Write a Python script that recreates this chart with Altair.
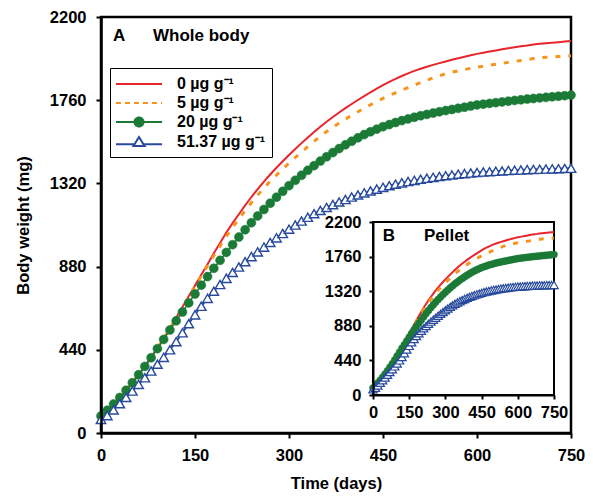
import altair as alt
import pandas as pd

# ---------------- data ----------------
days = list(range(0, 751, 10))
series_labels = ["0 µg g⁻¹", "5 µg g⁻¹", "20 µg g⁻¹", "51.37 µg g⁻¹"]

conc_0 = [80, 112, 146, 184, 224, 265, 308, 353, 401, 450,
          500, 554, 609, 666, 723, 780, 837, 893, 950, 1005,
          1060, 1110, 1157, 1204, 1248, 1290, 1329, 1367, 1403, 1437,
          1470, 1502, 1533, 1563, 1592, 1620, 1646, 1671, 1695, 1718,
          1740, 1761, 1782, 1802, 1821, 1840, 1857, 1873, 1888, 1902,
          1915, 1926, 1937, 1947, 1956, 1965, 1974, 1982, 1990, 1998,
          2005, 2011, 2017, 2023, 2029, 2035, 2040, 2045, 2049, 2054,
          2058, 2061, 2064, 2067, 2070, 2073]

conc_5 = [80, 112, 146, 184, 224, 265, 308, 353, 401, 450,
          500, 553, 608, 664, 720, 775, 830, 884, 937, 989,
          1040, 1087, 1132, 1176, 1218, 1258, 1296, 1331, 1364, 1396,
          1427, 1457, 1486, 1514, 1542, 1569, 1594, 1617, 1639, 1660,
          1680, 1699, 1718, 1736, 1753, 1770, 1785, 1799, 1813, 1827,
          1840, 1853, 1866, 1878, 1889, 1900, 1908, 1915, 1922, 1929,
          1935, 1940, 1945, 1950, 1955, 1960, 1965, 1970, 1975, 1980,
          1985, 1987, 1989, 1991, 1993, 1995]

conc_20 = [90, 120, 153, 188, 226, 266, 308, 352, 398, 446,
           495, 545, 593, 640, 688, 735, 782, 827, 871, 913,
           955, 996, 1036, 1075, 1112, 1148, 1182, 1215, 1247, 1278,
           1308, 1336, 1363, 1389, 1414, 1438, 1461, 1483, 1504, 1524,
           1543, 1561, 1578, 1593, 1607, 1620, 1631, 1642, 1652, 1661,
           1670, 1678, 1685, 1692, 1699, 1705, 1711, 1717, 1723, 1729,
           1735, 1739, 1743, 1747, 1751, 1755, 1759, 1762, 1766, 1769,
           1772, 1775, 1778, 1781, 1784, 1787]

conc_51 = [72, 92, 122, 155, 188, 222, 257, 292, 328, 364,
           400, 440, 483, 530, 578, 625, 670, 712, 750, 785,
           818, 849, 878, 906, 933, 958, 983, 1008, 1032, 1055,
           1078, 1100, 1121, 1141, 1160, 1177, 1193, 1208, 1222, 1235,
           1248, 1259, 1270, 1280, 1290, 1299, 1308, 1316, 1323, 1330,
           1336, 1342, 1347, 1352, 1357, 1361, 1365, 1369, 1372, 1375,
           1378, 1380, 1382, 1384, 1386, 1388, 1390, 1391, 1393, 1394,
           1395, 1396, 1397, 1398, 1399, 1400]

x_ticks = [0, 150, 300, 450, 600, 750]
y_ticks = [0, 440, 880, 1320, 1760, 2200]

main_labels = ["A", "Whole body"]
main_label_days = [19, 83]
main_label_values = [2099, 2099]
inset_labels = ["B", "Pellet"]
inset_label_days = [40, 211]
inset_label_values = [2018, 2018]

# ---------------- styling ----------------
FONT = "Liberation Sans"
RED, ORANGE, GREEN, BLUE = "#e8252b", "#f7941d", "#1a7a36", "#26499c"

W, H = 470, 416
INSET_X = [272, 453]
INSET_Y = [378, 205]


def frame(vals):
    return pd.DataFrame({"day": days, "value": vals})


df0, df5, df20, df51 = frame(conc_0), frame(conc_5), frame(conc_20), frame(conc_51)

# ---------------- main panel ----------------
xm = alt.X("day:Q", scale=alt.Scale(domain=[x_ticks[0], x_ticks[-1]], nice=False, zero=False),
           axis=alt.Axis(values=x_ticks, title="Time (days)", format="d", tickSize=5, tickWidth=2,
                         domainWidth=2.5, labelPadding=9, titlePadding=12, zindex=1))
ym = alt.Y("value:Q", scale=alt.Scale(domain=[y_ticks[0], y_ticks[-1]], nice=False),
           axis=alt.Axis(values=y_ticks, title="Body weight (mg)", format="d", tickSize=5, tickWidth=2,
                         domainWidth=2.5, labelPadding=10, titlePadding=18, zindex=1))


def panel(x, y, pt_circle, pt_tri, tri_sw):
    red = alt.Chart(df0).mark_line(color=RED, strokeWidth=2).encode(x=x, y=y)
    orange = alt.Chart(df5).mark_line(color=ORANGE, strokeWidth=3, strokeDash=[5, 8]).encode(x=x, y=y)
    gline = alt.Chart(df20).mark_line(color=GREEN, strokeWidth=1.5).encode(x=x, y=y)
    gpts = alt.Chart(df20).mark_point(shape="circle", filled=True, fill=GREEN, stroke=GREEN,
                                      strokeWidth=0.5, size=pt_circle, opacity=1).encode(x=x, y=y)
    bline = alt.Chart(df51).mark_line(color=BLUE, strokeWidth=1.8).encode(x=x, y=y)
    bpts = alt.Chart(df51).mark_point(shape="triangle-up", filled=True, fill="white", stroke=BLUE,
                                      strokeWidth=tri_sw, size=pt_tri, opacity=1,
                                      fillOpacity=1).encode(x=x, y=y)
    return [red, orange, gline, gpts, bline, bpts]


legend_paths = [
    "M-2.56,0H2.56",
    "M-2.56,0H2.56",
    "M-2.56,0H2.56M0.5,0A0.5,0.5,0,1,1,-0.5,0A0.5,0.5,0,1,1,0.5,0",
    "M-2.56,0.25H-0.6M0.6,0.25H2.56M0,-0.55L0.62,0.45L-0.62,0.45Z",
]
leg = alt.Legend(title=None, orient="none", legendX=9, legendY=51, symbolSize=324,
                 symbolStrokeWidth=2, symbolOpacity=1, labelFont=FONT, labelFontSize=16,
                 labelFontWeight="bold", labelColor="black", strokeColor="black",
                 fillColor="white", padding=6, rowPadding=1, symbolOffset=13,
                 labelOffset=28, cornerRadius=0, labelLimit=400)

legend_df = pd.DataFrame({"day": [days[0]] * 4, "value": [conc_0[0]] * 4, "series": series_labels})
legend_layer = alt.Chart(legend_df).mark_point(opacity=0, filled=True).encode(
    x=xm, y=ym,
    stroke=alt.Stroke("series:N", scale=alt.Scale(domain=series_labels, range=[RED, ORANGE, GREEN, BLUE]), legend=leg),
    fill=alt.Fill("series:N", scale=alt.Scale(domain=series_labels, range=[RED, ORANGE, GREEN, "white"]), legend=leg),
    shape=alt.Shape("series:N", scale=alt.Scale(domain=series_labels, range=legend_paths), legend=leg),
    strokeDash=alt.StrokeDash("series:N", scale=alt.Scale(domain=series_labels,
                                                          range=[[1, 0], [5, 4], [1, 0], [1, 0]]), legend=leg),
)

main_text = alt.Chart(pd.DataFrame({"day": main_label_days, "value": main_label_values,
                                    "label": main_labels})).mark_text(
    align="left", baseline="middle", font=FONT, fontSize=17, fontWeight="bold", color="black"
).encode(x=xm, y=ym, text="label:N")

main = alt.layer(*panel(xm, ym, 81, 90, 1.4), legend_layer, main_text)

# ---------------- inset panel ----------------
xi = alt.X("day:Q", scale=alt.Scale(domain=[x_ticks[0], x_ticks[-1]], range=INSET_X, nice=False, zero=False),
           axis=alt.Axis(values=x_ticks, title=None, orient="bottom", format="d",
                         offset=-(H - INSET_Y[0]),
                         tickSize=4, tickWidth=2, domainWidth=2, labelPadding=5, zindex=1))
yi = alt.Y("value:Q", scale=alt.Scale(domain=[y_ticks[0], y_ticks[-1]], range=INSET_Y, nice=False),
           axis=alt.Axis(values=y_ticks, title=None, orient="left", format="d",
                         offset=-INSET_X[0],
                         tickSize=4, tickWidth=2, domainWidth=2, labelPadding=8, zindex=1))

bg_df = pd.DataFrame({"day": [x_ticks[0]], "day2": [x_ticks[-1]],
                      "value": [y_ticks[0]], "value2": [y_ticks[-1]]})
bg = alt.Chart(bg_df).mark_rect(fill="white", stroke="black", strokeWidth=2).encode(
    x=xi, x2="day2:Q", y=yi, y2="value2:Q")

inset_text = alt.Chart(pd.DataFrame({"day": inset_label_days, "value": inset_label_values,
                                     "label": inset_labels})).mark_text(
    align="left", baseline="middle", font=FONT, fontSize=17, fontWeight="bold", color="black"
).encode(x=xi, y=yi, text="label:N")

inset = alt.layer(bg, *panel(xi, yi, 49, 70, 1.2), inset_text)

chart = alt.layer(main, inset).resolve_scale(x="independent", y="independent").properties(
    width=W, height=H,
    autosize=alt.AutoSizeParams(type="none"),
    padding={"left": 93, "top": 9, "right": 14, "bottom": 62},
).configure_axis(
    labelFont=FONT, titleFont=FONT, labelFontSize=16.5, titleFontSize=16.5,
    labelFontWeight="bold", titleFontWeight="bold", labelColor="black", titleColor="black",
    domainColor="black", tickColor="black", grid=False, labelFlush=False, labelOverlap=False,
).configure_view(stroke="black", strokeWidth=2.5)

chart.save("out.html", embed_options={"renderer": "svg", "actions": False})
